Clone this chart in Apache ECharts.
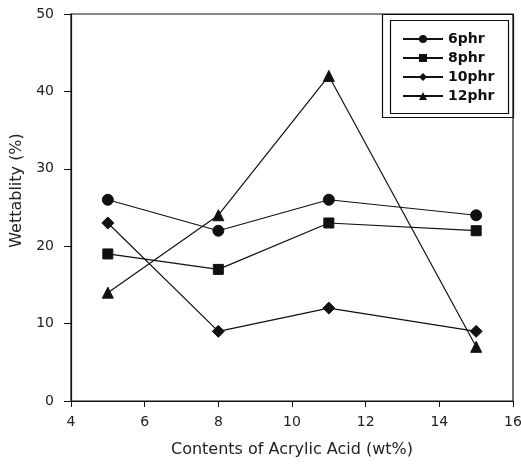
<!DOCTYPE html>
<html>
<head>
<meta charset="utf-8">
<script src="https://cdn.jsdelivr.net/npm/echarts@6/dist/echarts.min.js"></script>
<style>
  html, body { margin: 0; padding: 0; background: #fff; }
  #chart { width: 521px; height: 464px; }
</style>
</head>
<body>
<div id="chart"></div>
<script>
// Acrylic acid content (wt%) on the x axis
var acidContent = [5, 8, 11, 15];

// Wettability (%) for each phr level
var wet6phr  = [26, 22, 26, 24];
var wet8phr  = [19, 17, 23, 22];
var wet10phr = [23, 9, 12, 9];
var wet12phr = [14, 24, 42, 7];

var seriesNames = ['6phr', '8phr', '10phr', '12phr'];

function pairs(ys) {
  return acidContent.map(function (x, i) { return [x, ys[i]]; });
}

var ink = '#111';
var font = 'DejaVu Sans, Verdana, sans-serif';

function lineSeries(name, ys, symbol, size) {
  return {
    name: name,
    type: 'line',
    data: pairs(ys),
    symbol: symbol,
    symbolSize: size,
    showAllSymbol: true,
    lineStyle: { color: ink, width: 1.2 },
    itemStyle: { color: ink, borderColor: ink },
    emphasis: { disabled: true },
    animation: false
  };
}

var chart = echarts.init(document.getElementById('chart'));
chart.setOption({
  backgroundColor: '#fff',
  animation: false,
  grid: {
    left: 71, right: 8, top: 14, bottom: 63,
    outerBoundsMode: 'none', containLabel: false,
    show: true, borderColor: ink, borderWidth: 1.2
  },
  xAxis: {
    type: 'value',
    min: 4, max: 16, interval: 2,
    name: 'Contents of Acrylic Acid (wt%)',
    nameLocation: 'middle',
    nameGap: 41,
    nameTextStyle: { fontFamily: font, fontSize: 16, color: '#222' },
    axisLine: { lineStyle: { color: ink, width: 1.2 } },
    axisTick: { show: true, inside: false, length: 6, lineStyle: { color: ink } },
    axisLabel: { fontFamily: font, fontSize: 14, color: '#222', margin: 14 },
    splitLine: { show: false }
  },
  yAxis: {
    type: 'value',
    min: 0, max: 50, interval: 10,
    name: 'Wettablity (%)',
    nameLocation: 'middle',
    nameGap: 46,
    nameTextStyle: { fontFamily: font, fontSize: 16, color: '#222', padding: [0, 0, 0, 34] },
    axisLine: { show: true, lineStyle: { color: ink, width: 1.2 } },
    axisTick: { show: true, inside: false, length: 7, lineStyle: { color: ink } },
    axisLabel: { fontFamily: font, fontSize: 14, color: '#222', margin: 17 },
    splitLine: { show: false }
  },
  legend: {
    data: seriesNames,
    orient: 'vertical',
    left: 402,
    top: 32,
    padding: 0,
    itemWidth: 40,
    itemHeight: 10,
    itemGap: 5,
    textStyle: { fontFamily: font, fontSize: 14, lineHeight: 14, color: '#111', fontWeight: 'bold' },
    selectedMode: false
  },
  graphic: [
    { type: 'rect', shape: { x: 390.5, y: 20.5, width: 118, height: 93 }, style: { fill: 'none', stroke: ink, lineWidth: 1.2 }, silent: true },
    { type: 'rect', shape: { x: 382.5, y: 14.5, width: 131, height: 103 }, style: { fill: 'none', stroke: ink, lineWidth: 1.2 }, silent: true }
  ],
  series: [
    lineSeries('6phr', wet6phr, 'circle', 11),
    lineSeries('8phr', wet8phr, 'rect', 10),
    lineSeries('10phr', wet10phr, 'diamond', 12),
    lineSeries('12phr', wet12phr, 'triangle', 11)
  ]
});
</script>
</body>
</html>
